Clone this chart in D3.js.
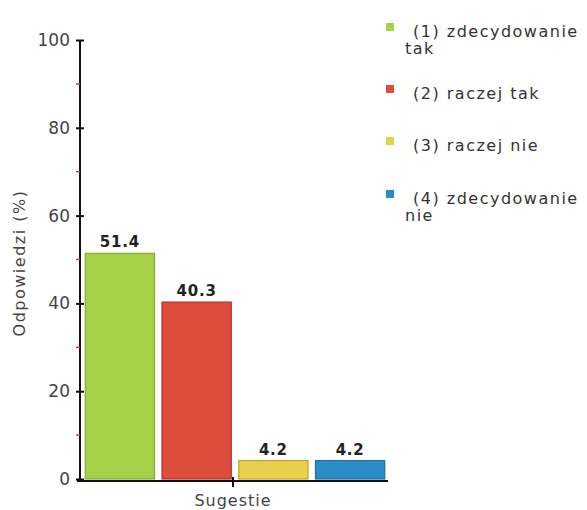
<!DOCTYPE html>
<html><head><meta charset="utf-8">
<script src="https://cdn.jsdelivr.net/npm/d3@7"></script>
<style>body{margin:0;background:#fff}svg{display:block}</style>
</head><body>
<script>
const categories = ["(1) zdecydowanie tak","(2) raczej tak","(3) raczej nie","(4) zdecydowanie nie"];
const legendLines = [["(1) zdecydowanie","tak"],["(2) raczej tak"],["(3) raczej nie"],["(4) zdecydowanie","nie"]];
const values = [51.4, 40.3, 4.2, 4.2];
const labels = ["51.4","40.3","4.2","4.2"];
const colors = ["#a5d048","#dc4e3b","#e9d04c","#2a8bc6"];
const strokes = ["#80ad30","#b3302a","#bfa332","#1f6f9f"];
const majorTicks = [0,20,40,60,80,100];
const minorTicks = [10,30,50,70,90];

const W=587,H=510;
const svg=d3.select("body").append("svg").attr("width",W).attr("height",H);
const font="DejaVu Sans, Verdana, sans-serif";
const y=d3.scaleLinear().domain([0,100]).range([479,40]);
const x=d3.scaleBand().domain(categories).range([84,386]).paddingInner(0.085).paddingOuter(0.01);

// bars
svg.selectAll("rect.bar").data(values).join("rect")
  .attr("x",(d,i)=>x(categories[i])+0.5).attr("width",x.bandwidth()-1)
  .attr("y",d=>y(d)).attr("height",d=>y(0)-y(d))
  .attr("fill",(d,i)=>colors[i]).attr("stroke",(d,i)=>strokes[i]).attr("stroke-width",1.2);

svg.selectAll("text.val").data(values).join("text")
  .attr("x",(d,i)=>x(categories[i])+x.bandwidth()/2).attr("y",d=>y(d)-6)
  .attr("text-anchor","middle").attr("font-family",font).attr("font-weight","bold")
  .attr("font-size",15).attr("letter-spacing",0.8).attr("fill","#222").text((d,i)=>labels[i]);

// y axis
const ya=svg.append("g").attr("transform","translate(80,0)")
  .call(d3.axisLeft(y).tickValues(majorTicks).tickSize(4).tickPadding(6));
ya.select(".domain").attr("stroke","#111").attr("stroke-width",2).attr("d","M0,"+(y(100))+"V"+(y(0)+3));
ya.selectAll(".tick line").attr("stroke","#111").attr("stroke-width",2).attr("x1",4).attr("x2",-4);
ya.selectAll(".tick text").attr("font-family",font).attr("font-size",17).attr("fill","#444");
svg.append("g").selectAll("line").data(minorTicks).join("line")
  .attr("x1",76).attr("x2",80).attr("y1",d=>y(d)).attr("y2",d=>y(d))
  .attr("stroke","#e03030").attr("stroke-width",1.5);

// x axis
svg.append("line").attr("x1",77).attr("x2",388).attr("y1",y(0)+2).attr("y2",y(0)+2)
  .attr("stroke","#111").attr("stroke-width",2);
svg.append("line").attr("x1",233).attr("x2",233).attr("y1",y(0)-2).attr("y2",y(0)+8)
  .attr("stroke","#111").attr("stroke-width",2);
svg.append("text").attr("x",233).attr("y",506).attr("text-anchor","middle")
  .attr("font-family",font).attr("font-size",16).attr("letter-spacing",1).attr("fill","#444").text("Sugestie");

svg.append("text").attr("transform","translate(25,263) rotate(-90)").attr("text-anchor","middle")
  .attr("font-family",font).attr("font-size",16).attr("letter-spacing",1.5).attr("fill","#444").text("Odpowiedzi (%)");

// legend
const legY=[37,99,151,204];
const lg=svg.append("g");
legendLines.forEach((lines,i)=>{
  lg.append("rect").attr("x",386).attr("y",legY[i]-14).attr("width",8).attr("height",8).attr("fill",colors[i]);
  lines.forEach((t,j)=>{
    lg.append("text").attr("x",j===0?413:405).attr("y",legY[i]+j*17).attr("font-family",font)
      .attr("font-size",16).attr("letter-spacing",1.5).attr("fill","#333").text(t);
  });
});
</script>
</body></html>
